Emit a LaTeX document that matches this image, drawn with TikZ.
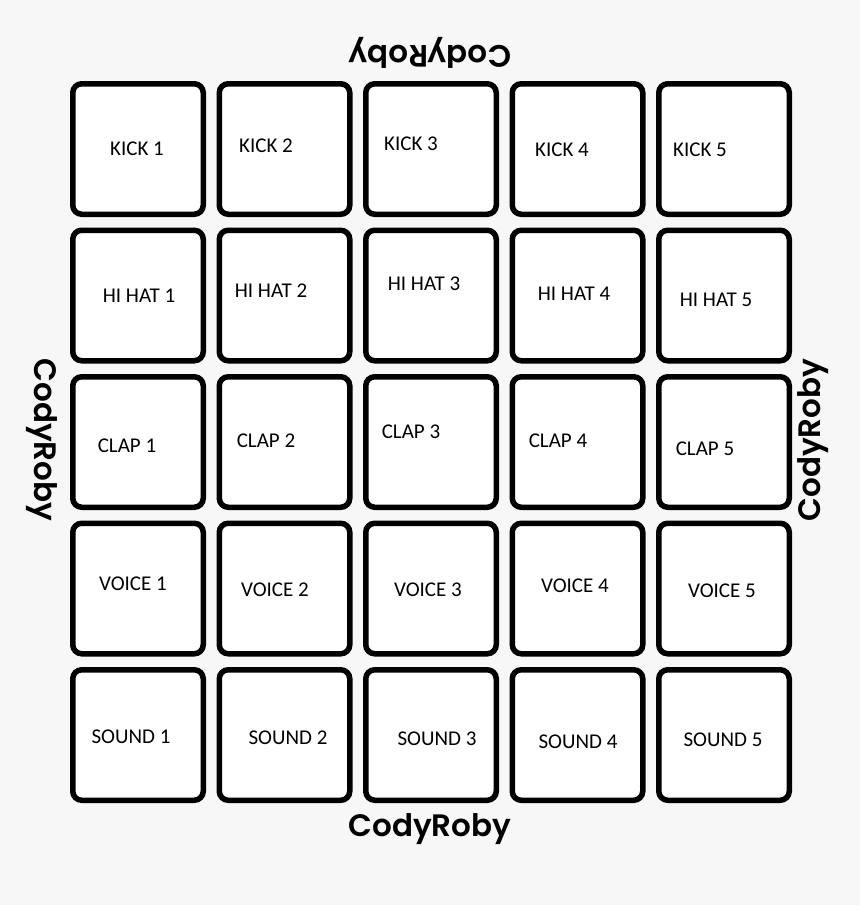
\documentclass[tikz,border=0pt]{standalone}
\usepackage{fontspec}
\setmainfont{Carlito}
\newfontfamily\brandfont{Poppins}[UprightFont={* SemiBold}]
\definecolor{paper}{HTML}{F7F7F7}
\tikzset{
  pad/.style={draw, fill=white, line width=5.5pt, rounded corners=9pt,
    minimum size=130.5pt, inner sep=0pt},
  brand/.style={font=\brandfont\fontsize{31}{33}\selectfont, inner sep=0pt}
}
\begin{document}
\begin{tikzpicture}[x=1pt, y=-1pt, every node/.style={font=\fontsize{21}{23}\selectfont}]
  \fill[paper] (0,0) rectangle (860,905);
  \useasboundingbox (0,0) rectangle (860,905);

  % pads
  \foreach \r in {0,...,4}
    \foreach \c in {0,...,4}
      \node[pad] (pad-\r-\c) at ({138+146.5*\c},{149+146.5*\r}) {};

  % row 1
  \node (kick1) at (137,149) {KICK 1};
  \node (kick2) at (266,146) {KICK 2};
  \node (kick3) at (411,144) {KICK 3};
  \node (kick4) at (562,150) {KICK 4};
  \node (kick5) at (700,150) {KICK 5};

  % row 2
  \node (hihat1) at (139,296) {HI HAT 1};
  \node (hihat2) at (271,291) {HI HAT 2};
  \node (hihat3) at (424,284) {HI HAT 3};
  \node (hihat4) at (574,294) {HI HAT 4};
  \node (hihat5) at (716,300) {HI HAT 5};

  % row 3
  \node (clap1) at (127,446) {CLAP 1};
  \node (clap2) at (266,441) {CLAP 2};
  \node (clap3) at (411,432) {CLAP 3};
  \node (clap4) at (558,441) {CLAP 4};
  \node (clap5) at (705,449) {CLAP 5};

  % row 4
  \node (voice1) at (133,584) {VOICE 1};
  \node (voice2) at (275,590) {VOICE 2};
  \node (voice3) at (428,590) {VOICE 3};
  \node (voice4) at (575,586) {VOICE 4};
  \node (voice5) at (722,591) {VOICE 5};

  % row 5
  \node (sound1) at (131,737) {SOUND 1};
  \node (sound2) at (288,738) {SOUND 2};
  \node (sound3) at (437,739) {SOUND 3};
  \node (sound4) at (578,742) {SOUND 4};
  \node (sound5) at (723,740) {SOUND 5};

  % brand marks on all four sides
  \node[brand, rotate=180] (brand-top) at (430,53) {CodyRoby};
  \node[brand] (brand-bottom) at (430,829) {CodyRoby};
  \node[brand, rotate=-90] (brand-left) at (42,440) {CodyRoby};
  \node[brand, rotate=90] (brand-right) at (813,440) {CodyRoby};
\end{tikzpicture}
\end{document}
